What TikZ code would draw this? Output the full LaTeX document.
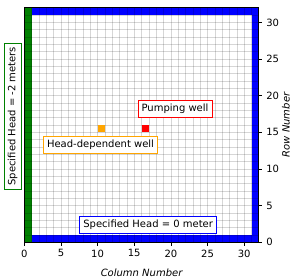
\documentclass[tikz,border=0pt]{standalone}
\usepackage{fontspec}
\setmainfont{DejaVu Sans}
\usetikzlibrary{positioning}
\definecolor{mplgreen}{HTML}{008000}
\definecolor{mplorange}{HTML}{FFA500}

\begin{document}
\begin{tikzpicture}[x=1pt,y=1pt,font=\fontsize{10}{12}\selectfont]
\tikzset{
  tag/.style={draw,fill=white,line width=0.8pt,inner xsep=3.5pt,inner ysep=3.5pt},
  gridline/.style={draw=black,opacity=0.16,line width=0.7pt},
  tick/.style={line width=0.8pt},
  ticklab/.style={inner sep=0pt}
}
\useasboundingbox (0,0) rectangle (300,280);

\begin{scope}[shift={(24.3,37.7)},x=7.33pt,y=7.33pt]
  % boundary cells
  \fill[mplgreen] (0,0) rectangle (1,32);
  \fill[blue] (1,0) rectangle (32,1);
  \fill[blue] (1,31) rectangle (32,32);
  \fill[blue] (31,1) rectangle (32,31);
  \foreach \k in {1,...,31} {
    \draw[gridline] (\k,0) -- (\k,32);
    \draw[gridline] (0,\k) -- (32,\k);
  }

  % wells
  \fill[mplorange] (10.05,15.05) rectangle (10.95,15.95);
  \fill[red] (16.05,15.05) rectangle (16.95,15.95);

  \draw[line width=0.8pt] (0,0) rectangle (32,32);

  % ticks
  \foreach \v in {0,5,...,30} {
    \draw[tick] (\v,0) -- ++(0,-3.5pt) node[ticklab,below=3.5pt] (xt\v) {\v};
    \draw[tick] (32,\v) -- ++(3.5pt,0) node[ticklab,right=3.5pt] (yt\v) {\v};
  }

  \node[tag,draw=red] (pumplab) at (20.56,18.2) {Pumping well};
  \node[tag,draw=mplorange] (hdlab) at (10.4,13.3) {Head-dependent well};
  \node[tag,draw=blue] (chdzero) at (16.9,2.36) {Specified Head = 0 meter};
  \node[tag,draw=mplgreen,rotate=90] (chdleft) at (-1.6,17.2) {Specified Head = -2 meters};

  \node[font=\fontsize{10}{12}\selectfont\itshape] (xlabel) at (16,-4.2) {Column Number};
  \node[font=\fontsize{10}{12}\selectfont\itshape,rotate=90] (ylabel) at (35.7,16) {Row Number};
\end{scope}
\end{tikzpicture}
\end{document}
